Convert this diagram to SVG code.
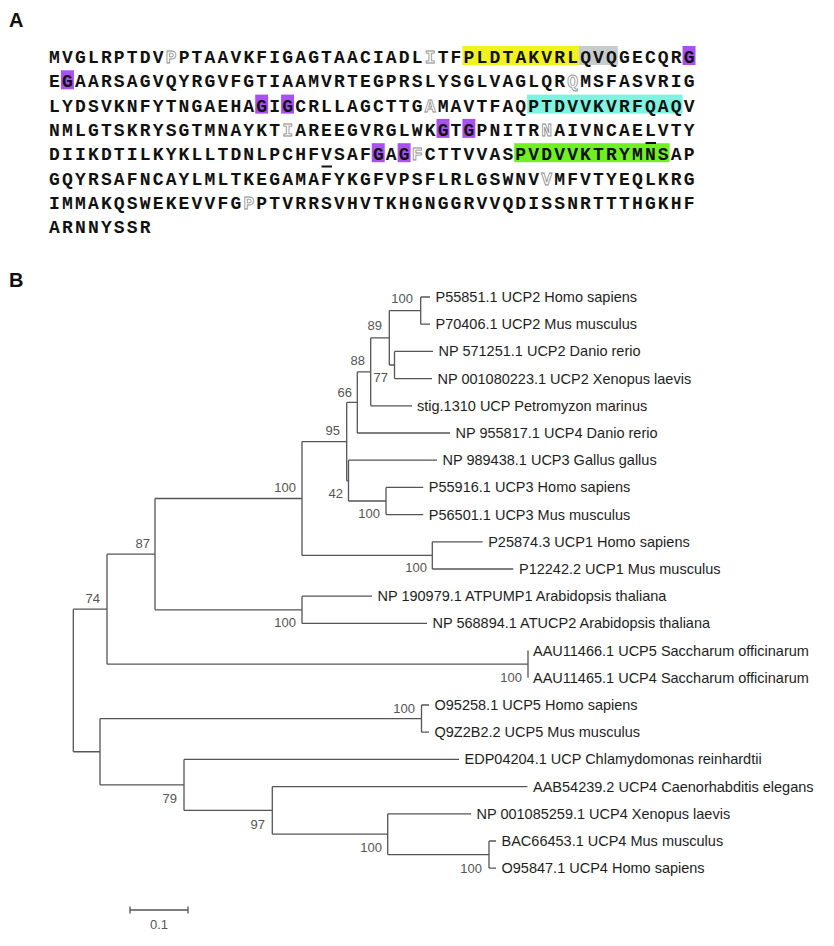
<svg xmlns="http://www.w3.org/2000/svg" width="834" height="946" viewBox="0 0 834 946">
<style>
.lab{font-family:"Liberation Sans",Arial,sans-serif;font-weight:bold;font-size:20px;fill:#111}
.seq{font-family:"Liberation Mono","DejaVu Sans Mono",monospace;font-weight:bold;font-size:18px;letter-spacing:2.15px;fill:#111}
.ol{fill:#fff;stroke:#8a8a8a;stroke-width:0.8}
.y{fill:#f2f21f}.g{fill:#c6cbcb}.c{fill:#7ff2e2}.gr{fill:#70f020}.p{fill:#aa4ff0}
.ul{stroke:#111;stroke-width:2}
.leaf{font-family:"Liberation Sans",Arial,sans-serif;font-size:14.5px;fill:#1e1e1e}
.bs{font-family:"Liberation Sans",Arial,sans-serif;font-size:13px;fill:#555;text-anchor:end}
.br{stroke:#555;stroke-width:1.3;fill:none}
</style>
<rect width="834" height="946" fill="#fff"/>
<text class="lab" x="9" y="27">A</text>
<text class="lab" x="9" y="287">B</text>
<g id="sequence">
<g id="highlights">
<rect class="y" x="462.4" y="46" width="116.55" height="19"/>
<rect class="g" x="578.95" y="46" width="38.85" height="19"/>
<rect class="p" x="682.55" y="46" width="12.95" height="19"/>
<rect class="p" x="60.95" y="70.3" width="12.95" height="19"/>
<rect class="p" x="255.2" y="94.6" width="12.95" height="19"/>
<rect class="p" x="281.1" y="94.6" width="12.95" height="19"/>
<rect class="c" x="527.15" y="94.6" width="155.4" height="19"/>
<rect class="p" x="436.5" y="118.9" width="12.95" height="19"/>
<rect class="p" x="462.4" y="118.9" width="12.95" height="19"/>
<rect class="p" x="371.75" y="143.2" width="12.95" height="19"/>
<rect class="p" x="397.65" y="143.2" width="12.95" height="19"/>
<rect class="gr" x="514.2" y="143.2" width="155.4" height="19"/>
</g>
<text class="seq" x="49.1" y="63">MVGLRPTDV<tspan class="ol">P</tspan>PTAAVKFIGAGTAACIADL<tspan class="ol">I</tspan>TFPLDTAKVRLQVQGECQRG</text>
<text class="seq" x="49.1" y="87.3">EGAARSAGVQYRGVFGTIAAMVRTEGPRSLYSGLVAGLQR<tspan class="ol">Q</tspan>MSFASVRIG</text>
<text class="seq" x="49.1" y="111.6">LYDSVKNFYTNGAEHAGIGCRLLAGCTTG<tspan class="ol">A</tspan>MAVTFAQPTDVVKVRFQAQV</text>
<text class="seq" x="49.1" y="135.9">NMLGTSKRYSGTMNAYKT<tspan class="ol">I</tspan>AREEGVRGLWKGTGPNITR<tspan class="ol">N</tspan>AIVNCAELVTY</text>
<text class="seq" x="49.1" y="160.2">DIIKDTILKYKLLTDNLPCHFVSAFGAG<tspan class="ol">F</tspan>CTTVVASPVDVVKTRYMNSAP</text>
<text class="seq" x="49.1" y="184.5">GQYRSAFNCAYLMLTKEGAMAFYKGFVPSFLRLGSWNV<tspan class="ol">V</tspan>MFVTYEQLKRG</text>
<text class="seq" x="49.1" y="208.8">IMMAKQSWEKEVVFG<tspan class="ol">P</tspan>PTVRRSVHVTKHGNGGRVVQDISSNRTTTHGKHF</text>
<text class="seq" x="49.1" y="233.1">ARNNYSSR</text>
<line class="ul" x1="645.5" y1="143" x2="656" y2="143"/>
<line class="ul" x1="321.5" y1="166.5" x2="332" y2="166.5"/>
</g>
<g id="branches">
<path class="br" d="M73.3 609.2V751.75M73.3 609.2H107M73.3 751.75H100
M107 554.15V664.2M107 554.15H155M107 664.2H528
M155 498.5V609.8M155 498.5H302M155 609.8H302
M302 441.6V555.4M302 441.6H346.7M302 555.4H432.3
M346.7 402.4V480.8M346.7 402.4H357.3M346.7 480.8H348.5
M357.3 371.8V433M357.3 371.8H370.7M357.3 433H450
M370.7 337.8V405.8M370.7 337.8H389.3M370.7 405.8H412
M389.3 310.6V365M389.3 310.6H420.7M389.3 365H394.5
M420.7 297V324.2M420.7 297H430M420.7 324.2H430
M394.5 351.4V378.6M394.5 351.4H433M394.5 378.6H432
M348.5 460.2V501M348.5 460.2H437M348.5 501H386
M386 487.4V514.6M386 487.4H423.3M386 514.6H423.3
M432.3 541.8V569M432.3 541.8H482.7M432.3 569H513.3
M302 596.2V623.4M302 596.2H372M302 623.4H427
M528 650.6V677.8
M100 718.6V784.9M100 718.6H421.5M100 784.9H184
M421.5 705V732.2M421.5 705H429M421.5 732.2H429
M184 759.4V810.4M184 759.4H459M184 810.4H272.3
M272.3 786.6V834.2M272.3 786.6H527.4M272.3 834.2H387.7
M387.7 813.8V854.6M387.7 813.8H471M387.7 854.6H489
M489 841V868.2M489 841H496M489 868.2H496"/>
</g>
<g id="leaves">
<g id="leaf-P55851"><text class="leaf" x="435.5" y="302">P55851.1 UCP2 Homo sapiens</text></g>
<g id="leaf-P70406"><text class="leaf" x="435.5" y="329.2">P70406.1 UCP2 Mus musculus</text></g>
<g id="leaf-NP571251"><text class="leaf" x="438.5" y="356.4">NP 571251.1 UCP2 Danio rerio</text></g>
<g id="leaf-NP001080223"><text class="leaf" x="437.5" y="383.6">NP 001080223.1 UCP2 Xenopus laevis</text></g>
<g id="leaf-stig1310"><text class="leaf" x="417" y="410.8">stig.1310 UCP Petromyzon marinus</text></g>
<g id="leaf-NP955817"><text class="leaf" x="455.5" y="438">NP 955817.1 UCP4 Danio rerio</text></g>
<g id="leaf-NP989438"><text class="leaf" x="442.5" y="465.2">NP 989438.1 UCP3 Gallus gallus</text></g>
<g id="leaf-P55916"><text class="leaf" x="428.8" y="492.4">P55916.1 UCP3 Homo sapiens</text></g>
<g id="leaf-P56501"><text class="leaf" x="428.8" y="519.6">P56501.1 UCP3 Mus musculus</text></g>
<g id="leaf-P25874"><text class="leaf" x="488.2" y="546.8">P25874.3 UCP1 Homo sapiens</text></g>
<g id="leaf-P12242"><text class="leaf" x="519" y="574">P12242.2 UCP1 Mus musculus</text></g>
<g id="leaf-NP190979"><text class="leaf" x="377.5" y="601.2">NP 190979.1 ATPUMP1 Arabidopsis thaliana</text></g>
<g id="leaf-NP568894"><text class="leaf" x="432.5" y="628.4">NP 568894.1 ATUCP2 Arabidopsis thaliana</text></g>
<g id="leaf-AAU11466"><text class="leaf" x="533" y="655.6">AAU11466.1 UCP5 Saccharum officinarum</text></g>
<g id="leaf-AAU11465"><text class="leaf" x="533" y="682.8">AAU11465.1 UCP4 Saccharum officinarum</text></g>
<g id="leaf-O95258"><text class="leaf" x="434.5" y="710">O95258.1 UCP5 Homo sapiens</text></g>
<g id="leaf-Q9Z2B2"><text class="leaf" x="434.5" y="737.2">Q9Z2B2.2 UCP5 Mus musculus</text></g>
<g id="leaf-EDP04204"><text class="leaf" x="464.5" y="764.4">EDP04204.1 UCP Chlamydomonas reinhardtii</text></g>
<g id="leaf-AAB54239"><text class="leaf" x="533" y="791.6">AAB54239.2 UCP4 Caenorhabditis elegans</text></g>
<g id="leaf-NP001085259"><text class="leaf" x="476.5" y="818.8">NP 001085259.1 UCP4 Xenopus laevis</text></g>
<g id="leaf-BAC66453"><text class="leaf" x="501.5" y="846">BAC66453.1 UCP4 Mus musculus</text></g>
<g id="leaf-O95847"><text class="leaf" x="501.5" y="873.2">O95847.1 UCP4 Homo sapiens</text></g>
</g>
<g id="bootstrap">
<g id="node-ucp2-mammal"><text class="bs" x="413" y="303">100</text></g>
<g id="node-89"><text class="bs" x="382" y="330">89</text></g>
<g id="node-88"><text class="bs" x="365" y="365">88</text></g>
<g id="node-77"><text class="bs" x="388" y="381.5">77</text></g>
<g id="node-66"><text class="bs" x="352" y="396.5">66</text></g>
<g id="node-95"><text class="bs" x="340" y="435">95</text></g>
<g id="node-42"><text class="bs" x="343" y="498">42</text></g>
<g id="node-ucp3"><text class="bs" x="380" y="517.5">100</text></g>
<g id="node-ucp1"><text class="bs" x="427" y="572">100</text></g>
<g id="node-vert"><text class="bs" x="296" y="491.5">100</text></g>
<g id="node-87"><text class="bs" x="150" y="547.5">87</text></g>
<g id="node-74"><text class="bs" x="100" y="603">74</text></g>
<g id="node-arab"><text class="bs" x="296" y="626.5">100</text></g>
<g id="node-sacch"><text class="bs" x="522" y="682">100</text></g>
<g id="node-ucp5"><text class="bs" x="415" y="712.5">100</text></g>
<g id="node-79"><text class="bs" x="177" y="802.5">79</text></g>
<g id="node-97"><text class="bs" x="265" y="829">97</text></g>
<g id="node-ucp4vert"><text class="bs" x="382" y="851.5">100</text></g>
<g id="node-ucp4mammal"><text class="bs" x="482" y="872.5">100</text></g>
</g>
<g id="scale-bar">
<path class="br" d="M130 910H188M130 906.5V913.5M188 906.5V913.5"/>
<text class="bs" x="159" y="929" style="text-anchor:middle">0.1</text>
</g>
</svg>
